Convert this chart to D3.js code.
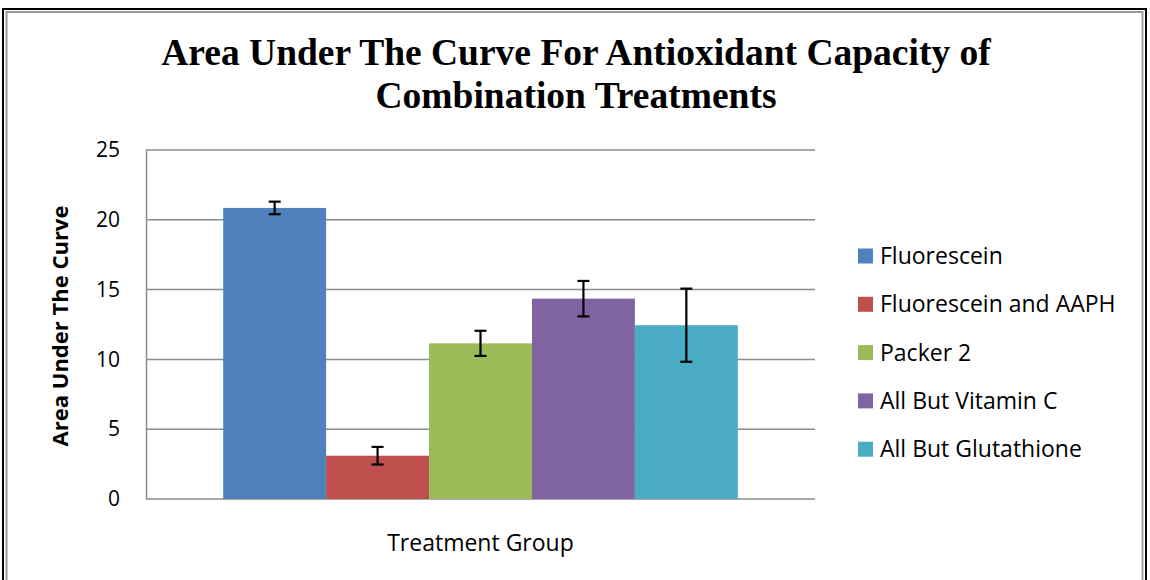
<!DOCTYPE html>
<html>
<head>
<meta charset="utf-8">
<script src="https://cdn.jsdelivr.net/npm/d3@7"></script>
<style>
body { margin: 0; background: #fff; }
svg { display: block; }
</style>
</head>
<body>
<script>
// data
var groups = ["Fluorescein", "Fluorescein and AAPH", "Packer 2", "All But Vitamin C", "All But Glutathione"];
var values = [20.85, 3.1, 11.15, 14.35, 12.45];
var errors = [0.45, 0.63, 0.9, 1.27, 2.62];
var colors = ["#4F81BD", "#C0504D", "#9BBB59", "#8064A2", "#4BACC6"];
var yTicks = [0, 5, 10, 15, 20, 25];

var W = 1150, H = 580;
var plot = { left: 146, right: 815, top: 150, bottom: 499 };
var font = "'Open Sans', Lato, sans-serif";

var svg = d3.select("body").append("svg").attr("width", W).attr("height", H);

// frame like the word doc border
svg.append("rect").attr("x", 3).attr("y", 9).attr("width", 1143).attr("height", 600)
	.attr("fill", "none").attr("stroke", "#000").attr("stroke-width", 2);
svg.append("rect").attr("x", 6.5).attr("y", 12).attr("width", 1136).attr("height", 600)
	.attr("fill", "none").attr("stroke", "#9a9a9a").attr("stroke-width", 2);

// title
var title = svg.append("text").attr("text-anchor", "middle")
	.style("font-family", "'Liberation Serif', 'Times New Roman', serif")
	.style("font-weight", "bold").style("font-size", "37.5px").attr("fill", "#000");
title.append("tspan").attr("x", 576).attr("y", 65).text("Area Under The Curve For Antioxidant Capacity of");
title.append("tspan").attr("x", 576).attr("y", 108).text("Combination Treatments");

var y = d3.scaleLinear().domain([0, 25]).range([plot.bottom, plot.top]);

var x = d3.scaleBand().domain(groups)
	.range([plot.left, plot.right])
	.paddingInner(0).paddingOuter(0.75);

// gridlines
svg.append("g").selectAll("line").data(yTicks).enter().append("line")
	.attr("x1", plot.left).attr("x2", plot.right)
	.attr("y1", function(d) { return y(d); })
	.attr("y2", function(d) { return y(d); })
	.attr("stroke", "#8c8c8c").attr("stroke-width", 1.5);

// y axis
var yAxis = d3.axisLeft(y).tickValues(yTicks).tickSize(0).tickPadding(26);
var ya = svg.append("g").attr("transform", "translate(" + plot.left + ",0)").call(yAxis);
ya.select(".domain").attr("stroke", "#8c8c8c").attr("stroke-width", 1.5);
ya.selectAll("text").style("font-family", font)
	.style("font-size", "21px").attr("fill", "#000");

// bars
svg.append("g").selectAll("rect").data(groups).enter().append("rect")
	.attr("x", function(d) { return x(d); })
	.attr("width", x.bandwidth())
	.attr("y", function(d, i) { return y(values[i]); })
	.attr("height", function(d, i) { return y(0) - y(values[i]); })
	.attr("fill", function(d, i) { return colors[i]; });

// error bars
var cap = 6;
var eb = svg.append("g").selectAll("g").data(groups).enter().append("g")
	.attr("stroke", "#000").attr("stroke-width", 2.2);
eb.append("line")
	.attr("x1", function(d) { return x(d) + x.bandwidth() / 2; })
	.attr("x2", function(d) { return x(d) + x.bandwidth() / 2; })
	.attr("y1", function(d, i) { return y(values[i] + errors[i]); })
	.attr("y2", function(d, i) { return y(values[i] - errors[i]); });
eb.append("line")
	.attr("x1", function(d) { return x(d) + x.bandwidth() / 2 - cap; })
	.attr("x2", function(d) { return x(d) + x.bandwidth() / 2 + cap; })
	.attr("y1", function(d, i) { return y(values[i] + errors[i]); })
	.attr("y2", function(d, i) { return y(values[i] + errors[i]); });
eb.append("line")
	.attr("x1", function(d) { return x(d) + x.bandwidth() / 2 - cap; })
	.attr("x2", function(d) { return x(d) + x.bandwidth() / 2 + cap; })
	.attr("y1", function(d, i) { return y(values[i] - errors[i]); })
	.attr("y2", function(d, i) { return y(values[i] - errors[i]); });

// axis titles
svg.append("text").attr("transform", "translate(68," + 326 + ") rotate(-90)")
	.attr("text-anchor", "middle")
	.style("font-family", font).style("font-weight", "bold")
	.style("font-size", "22px").text("Area Under The Curve");

svg.append("text").attr("x", (plot.left + plot.right) / 2).attr("y", 551)
	.attr("text-anchor", "middle")
	.style("font-family", font)
	.style("font-size", "23px").text("Treatment Group");

// legend
var legend = svg.append("g").selectAll("g").data(groups).enter().append("g")
	.attr("transform", function(d, i) { return "translate(858," + (256 + i * 48.3) + ")"; });
legend.append("rect").attr("x", 0).attr("y", -7.5).attr("width", 15).attr("height", 15)
	.attr("fill", function(d, i) { return colors[i]; });
legend.append("text").attr("x", 22).attr("y", 0).attr("dy", "0.35em")
	.style("font-family", font)
	.style("font-size", "23px").text(function(d) { return d; });
</script>
</body>
</html>
